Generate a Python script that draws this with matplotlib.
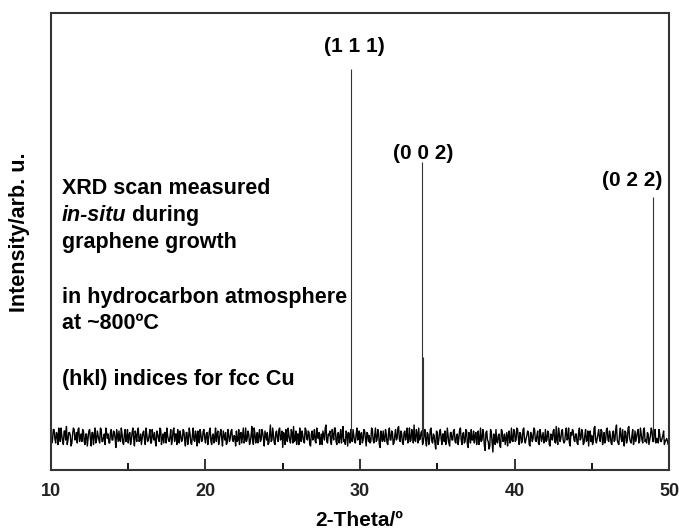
import numpy as np
import matplotlib.pyplot as plt

plt.rcParams['font.family'] = ['Liberation Sans', 'DejaVu Sans']
plt.rcParams['font.weight'] = 'bold'

# scan grid 10..50 deg, step 0.05 (read in two interleaved passes)
two_theta = np.round(np.arange(401) * 0.1 + 10, 2)
two_theta_mid = np.round(np.arange(400) * 0.1 + 10.05, 2)
base_level = 100
# baseline noise (counts above/below base level)
noise = [
    3, -2, 5, -4, 2, 6, -3, 1, -5, 4, 7, -2, 3, -6, 2, 5, -1, -4, 6, 0,
    -3, 4, -5, 2, -1, 5, -6, 3, 1, -4, 4, -2, 6, -3, 0, -5, 3, 2, -4, 5,
    -2, 3, -7, 1, 4, -3, 2, -5, 5, -1, -4, 3, -2, 6, -6, 1, 4, -3, 2, -1,
    4, -5, 2, -2, 5, -4, 1, 3, -6, 2, -3, 5, -1, -4, 3, 6, -2, 0, -5, 4,
    -3, 2, 5, -4, 1, -2, 4, -6, 3, -1, 2, -5, 6, -3, 1, 4, -4, 2, -2, 5,
    -4, 3, -1, 6, -5, 2, 0, -3, 4, -2, 5, -6, 1, 3, -4, 2, -1, 5, -3, 0,
    4, -2, -5, 3, 1, -4, 6, -1, 2, -3, 7, -5, 2, 0, -4, 5, -2, 3, -6, 1,
    3, -4, 8, -2, 1, -5, 4, -3, 6, -1, -7, 2, 5, -3, 1, -4, 3, 7, -2, -5,
    2, 6, -3, 1, -4, 5, -2, 3, -6, 4, 0, -3, 6, -1, -5, 2, 4, -2, 8, -4,
    1, -3, 5, -2, 6, -5, 3, 0, -4, 7, -2, 4, -6, 2, 5, -3, 1, -4, 6, -1,
    -5, 3, -2, 4, -6, 2, 1, -3, 5, -4, 6, -2, 3, -7, 1, 4, -3, 2, -5, 6,
    -2, 3, -4, 5, -1, 7, -3, 2, -5, 4, 1, -4, 6, -2, 3, 8, -3, 2, 6, -1,
    4, -3, 5, -6, 2, -2, 6, -4, 1, -8, 3, -2, 5, -5, 2, 4, -3, 1, -6, 3,
    -2, 5, -4, 2, -1, 6, -5, 3, -3, 4, -7, 1, 5, -2, -4, 3, 0, -5, 6, -2,
    2, -9, 4, -3, -6, 3, -10, 1, 5, -4, 2, -7, 4, -2, -5, 3, 1, -4, 6, -3,
    4, -2, 5, -5, 2, -3, 6, -4, 1, 3, -6, 2, -1, 5, -3, 4, -5, 2, 0, -4,
    5, -2, 3, -6, 1, 4, -3, 7, -5, 2, -1, 5, -4, 3, -2, 6, -6, 1, 4, -3,
    2, -5, 6, -1, 3, -4, 5, -2, -6, 4, 1, -3, 7, -4, 2, -1, 5, -5, 3, -2,
    6, -3, 1, -5, 4, -2, 8, -4, 2, -1, 5, -6, 3, -2, 7, -3, 1, -5, 4, 0,
    5, -3, 2, -4, 6, -2, 3, -5, 1, 4, -3, 5, -1, -4, 2, -3, 1, -5, -2, -3, -4,
]
noise_mid = [
    -4, 5, -1, 3, -5, 2, 6, -3, 4, -2, -5, 3, 1, -4, 6, -2, 3, 5, -3, 2,
    5, -3, 2, -6, 4, -1, 3, -5, 6, -2, 1, -4, 5, -3, 2, 6, -1, -4, 3, -2,
    4, -1, 5, -3, -2, 6, -4, 2, -3, 5, 1, -5, 3, -1, 4, -3, 6, -2, -5, 3,
    -2, 6, -3, 1, -4, 5, -2, -3, 4, -1, 6, -5, 2, 3, -4, 1, -3, 5, -2, 6,
    2, -5, -1, 4, -3, 5, -2, 3, -5, 6, -4, 1, -2, 4, -6, -1, 5, -3, 4, -1,
    2, -5, 4, -3, 1, -4, 6, 2, -5, 3, -1, 4, -2, -5, 5, -3, 4, -2, 1, -6,
    -3, 5, 2, -4, 6, -2, -3, 4, -5, 1, -2, 6, -4, 3, 1, -3, 5, -1, 4, -2,
    -5, 2, -3, 6, -4, 3, -1, 5, -2, 4, 3, -5, -1, 6, -2, 5, -4, -3, 4, 2,
    -5, -2, 4, -3, 6, -1, 4, -5, 2, -2, 5, -4, 1, 3, -2, -5, 1, 6, -3, 2,
    4, -5, 1, 6, -3, 2, -4, 5, 1, -3, -5, 2, 3, -4, -2, 5, -3, 2, -2, 4,
    2, -4, 5, -1, 3, -3, -4, 6, -2, 1, -3, 5, -5, 4, -3, -2, 5, -4, 3, -2,
    4, -5, 1, -2, 6, -2, 4, -4, 3, -2, 6, -1, -3, 5, -4, -2, 5, -4, -2, 3,
    -5, 2, -2, 3, -5, 5, -3, 2, -4, 4, -5, 3, -1, 2, -3, -5, 6, -4, 3, -2,
    4, -3, 1, -5, 5, -2, 2, -4, 5, -5, 3, -4, -2, 4, 1, -5, 4, -2, -3, 5,
    -6, 3, -2, -8, 5, -4, 2, -5, -3, 1, -6, 5, -3, 2, -1, -6, 4, -3, -2, 5,
    -3, 6, -1, 3, -4, 5, -2, -1, 4, -5, 3, -3, 6, -2, 1, -4, 5, -3, 3, -2,
    -3, 4, -5, 2, -2, 5, -4, -2, 6, -3, 4, -2, -3, 6, -1, -4, 3, 5, -2, 2,
    -4, 3, -2, 5, -5, 1, -3, 4, 3, -3, -5, 6, -2, -1, 5, -3, 4, -2, -4, 5,
    -2, 4, -4, 3, -3, 5, -2, -5, 6, -3, -2, 4, -4, 6, -1, -4, 5, -2, -3, 3,
    -4, 6, -2, 5, -3, -4, 2, -2, 6, -3, 3, -4, -1, 5, -3, -1, 4, -3, -1, -5,
]

# Cu reflections (counts above base level)
peak_pos = [29.41, 34.04, 34.07, 48.95]
peak_height = [245, 183, 53, 160]
hkl = ['(1 1 1)', '(0 0 2)', '(0 2 2)']
hkl_x = [29.64, 34.1, 47.6]
hkl_y = [360, 289.3, 271.3]

x = np.concatenate([two_theta, two_theta_mid])
y = base_level + np.concatenate([noise, noise_mid])
order = np.argsort(x)

fig = plt.figure(figsize=(6.79, 5.29), dpi=100)
ax = fig.add_axes([0.0751, 0.1115, 0.9102, 0.863])
ax.plot(x[order], y[order], color='black', lw=1.0)
ax.vlines(peak_pos, base_level, base_level + np.array(peak_height),
          color='#333333', lw=0.8)

ax.set_xlim(10, 50)
ax.set_ylim(78, 382.3)
ax.set_xticks([10, 20, 30, 40, 50])
ax.set_xticks([15, 25, 35, 45], minor=True)
ax.set_yticks([])
ax.tick_params(axis='x', which='major', direction='in', length=8, width=1.3,
               labelsize=13, pad=9, colors='#222222')
ax.tick_params(axis='x', which='minor', direction='in', length=5, width=1.3)
for lab in ax.get_xticklabels():
    lab.set_fontweight('bold')
for s in ax.spines.values():
    s.set_linewidth(1.5)
    s.set_color('#333333')

ax.set_xlabel('2-Theta/º', fontsize=15, fontweight='bold', va='center')
ax.xaxis.set_label_coords(0.498, -0.1095)
ax.set_ylabel('Intensity/arb. u.', fontsize=15.5, fontweight='bold', va='center')
ax.yaxis.set_label_coords(-0.0502, 0.521)

for lab, hx, hy in zip(hkl, hkl_x, hkl_y):
    ax.text(hx, hy, lab, ha='center', va='center', fontsize=15, fontweight='bold')

tx = 0.0178
fs = 15.5
ax.text(tx, 0.605, 'XRD scan measured', transform=ax.transAxes, fontsize=fs,
        fontweight='bold', va='baseline')
t = ax.text(tx, 0.546, 'in-situ', transform=ax.transAxes, fontsize=fs,
            fontweight='bold', style='italic', va='baseline')
ax.annotate(' during', xy=(1, 0), xycoords=t, fontsize=fs, fontweight='bold',
            va='bottom')
ax.text(tx, 0.487, 'graphene growth', transform=ax.transAxes, fontsize=fs,
        fontweight='bold', va='baseline')
ax.text(tx, 0.366, 'in hydrocarbon atmosphere', transform=ax.transAxes, fontsize=fs,
        fontweight='bold', va='baseline')
ax.text(tx, 0.309, 'at ~800ºC', transform=ax.transAxes, fontsize=fs,
        fontweight='bold', va='baseline')
ax.text(tx, 0.186, '(hkl) indices for fcc Cu', transform=ax.transAxes, fontsize=fs,
        fontweight='bold', va='baseline')

fig.savefig('out.png', dpi=100)
